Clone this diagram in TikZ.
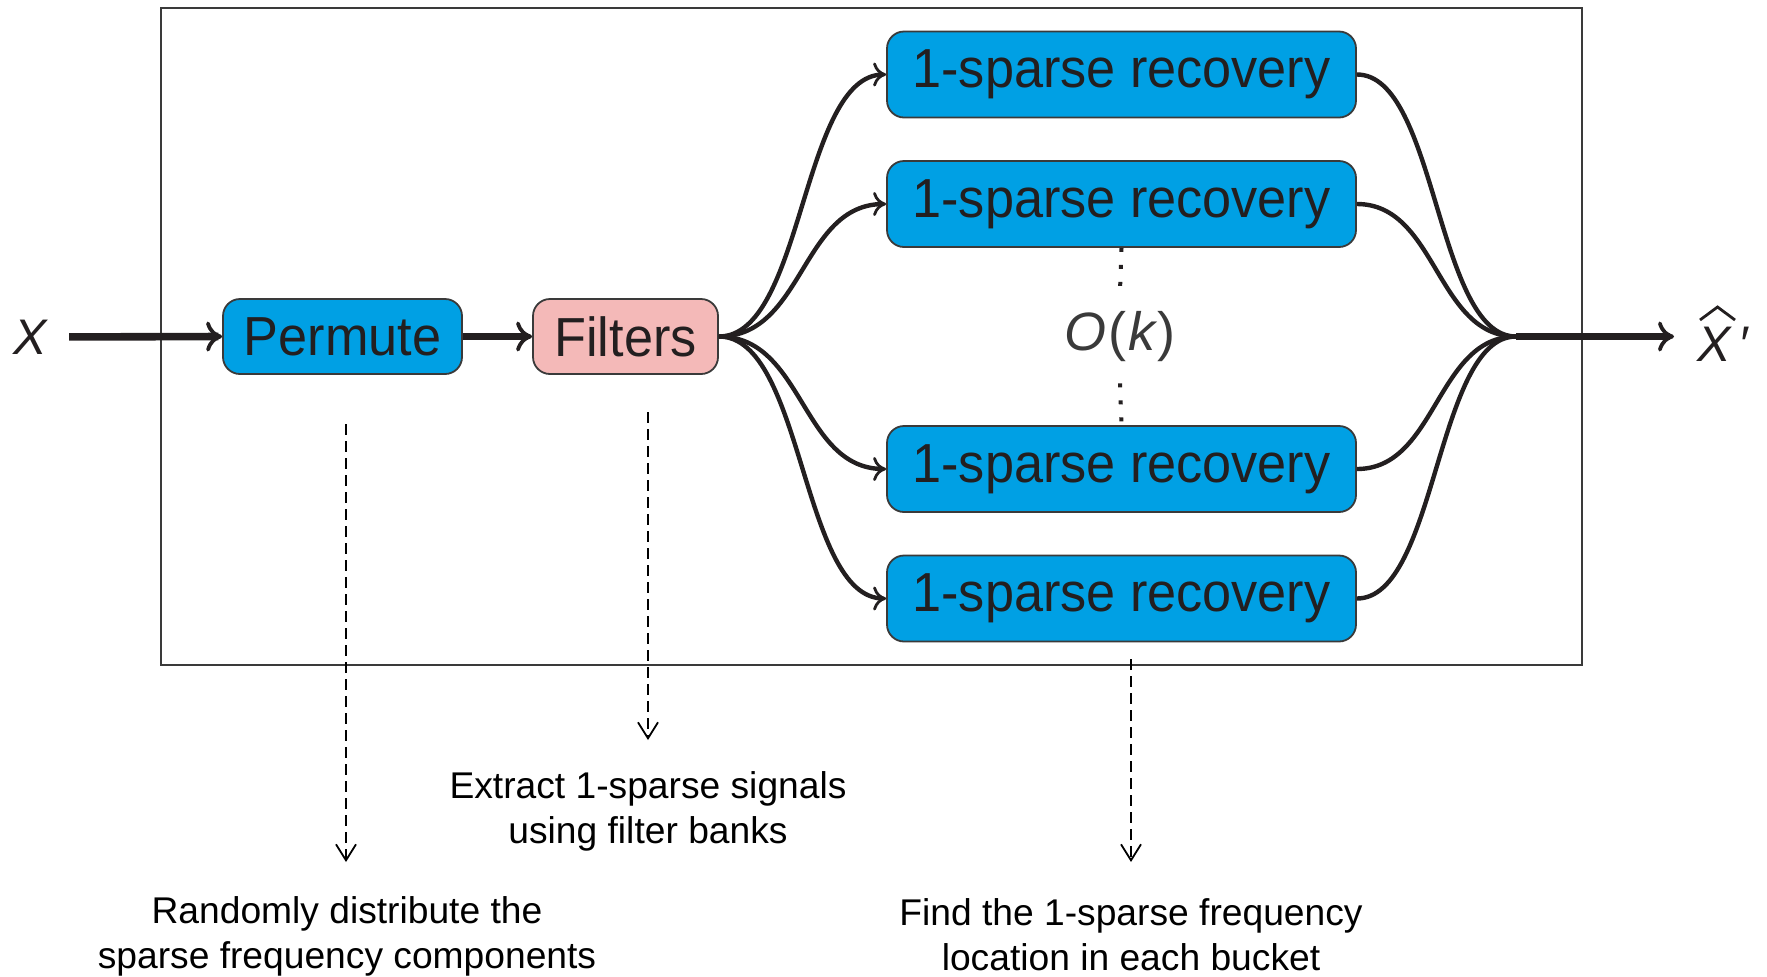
\documentclass[tikz,border=0pt]{standalone}
\usepackage{fontspec}
\setmainfont{Liberation Sans}
\newfontfamily\boxfont[FakeStretch=0.95]{Liberation Sans}
\usetikzlibrary{arrows.meta}
\definecolor{boxblue}{HTML}{00A0E4}
\definecolor{boxpink}{HTML}{F4B9B8}
\definecolor{ink}{HTML}{231F20}
\definecolor{edgegray}{HTML}{3A3A3A}
\begin{document}
\begin{tikzpicture}[x=0.5pt,y=-0.5pt,
  block/.style={draw=edgegray, line width=0.9pt, rounded corners=8.5pt, text=ink,
    font=\boxfont\fontsize{27.5}{30}\selectfont, inner sep=0pt},
  bluebox/.style={block, fill=boxblue},
  recbox/.style={bluebox, minimum width=234.5pt, minimum height=43pt},
  flow/.style={draw=ink, line width=3.8pt,
    -{Computer Modern Rightarrow[length=8pt,width=15pt,line width=1.9pt]}},
  branch/.style={draw=ink, line width=2.2pt},
  branchin/.style={branch,
    -{Computer Modern Rightarrow[length=6.5pt,width=12pt,line width=1.4pt]}},
  hint/.style={draw=black, line width=0.9pt, dash pattern=on 5.5pt off 3pt,
    -{Straight Barb[length=8pt,width=10pt,line width=0.9pt]}},
  note/.style={align=center, font=\fontsize{18.6}{22.5}\selectfont, text=black},
  mathlbl/.style={font=\fontsize{25}{30}\selectfont\itshape, text=ink, inner sep=0pt}
]
\useasboundingbox (0,0) rectangle (1767,976);

% outer frame of the system
\draw[draw=edgegray, line width=0.8pt] (161,8) rectangle (1582,665);

% processing blocks
\node[bluebox, minimum width=119.5pt, minimum height=37.5pt] (perm) at (342.5,336.5) {Permute};
\node[block, fill=boxpink, minimum width=92.5pt, minimum height=37.5pt] (filt) at (625.5,336.5) {Filters};
\node[recbox] (r1) at (1121.5,74.5) {1-sparse recovery};
\node[recbox] (r2) at (1121.5,204) {1-sparse recovery};
\node[recbox] (r3) at (1121.5,469) {1-sparse recovery};
\node[recbox] (r4) at (1121.5,598.5) {1-sparse recovery};

% number of recovery branches
\node[font=\fontsize{27}{30}\selectfont, text=edgegray, minimum height=46pt, inner sep=0pt]
  (ok) at (1120,337) {\itshape O\kern1pt\upshape(\kern1pt\itshape k\kern1pt\upshape)};
\draw[draw=ink, line width=2pt, dash pattern=on 2pt off 6.5pt] (r2.south) -- (ok.north);
\draw[draw=ink, line width=2pt, dash pattern=on 2pt off 6.5pt] (ok.south) -- (r3.north);

% input and output symbols
\node[mathlbl] (xin) at (30,337) {X};
\node[mathlbl, anchor=base west] (xout) at (1697,361) {X\kern4pt′};
\draw[draw=ink, line width=1.4pt, line join=miter] (1700,320) -- (1717.5,307) -- (1735,320);

\coordinate (merge) at (1516,336.5);
\coordinate (outend) at (1674,336.5);

% main signal path
\draw[flow, shorten <=11pt] (xin.east) -- (perm.west);
\draw[flow] (perm.east) -- (filt.west);
\foreach \r in {r1,r2,r3,r4}{
  \draw[branchin] (filt.east) .. controls +(85,0) and +(-85,0) .. (\r.west);
  \draw[branch] (\r.east) .. controls +(80,0) and +(-80,0) .. (merge);
}
\draw[flow] (merge) -- (outend);

% explanations of each stage
\coordinate (pa) at (346,424);  \coordinate (pb) at (346,862);
\coordinate (fa) at (648,412);  \coordinate (fb) at (648,740);
\coordinate (ra) at (1131,659); \coordinate (rb) at (1131,862);
\draw[hint] (pa) -- (pb);
\draw[hint] (fa) -- (fb);
\draw[hint] (ra) -- (rb);

\node[note] (pnote) at (347,936) {Randomly distribute the\\sparse frequency components};
\node[note] (fnote) at (648,811) {Extract 1-sparse signals\\using filter banks};
\node[note] (rnote) at (1131,934.5) {Find the 1-sparse frequency\\location in each bucket};
\end{tikzpicture}
\end{document}
